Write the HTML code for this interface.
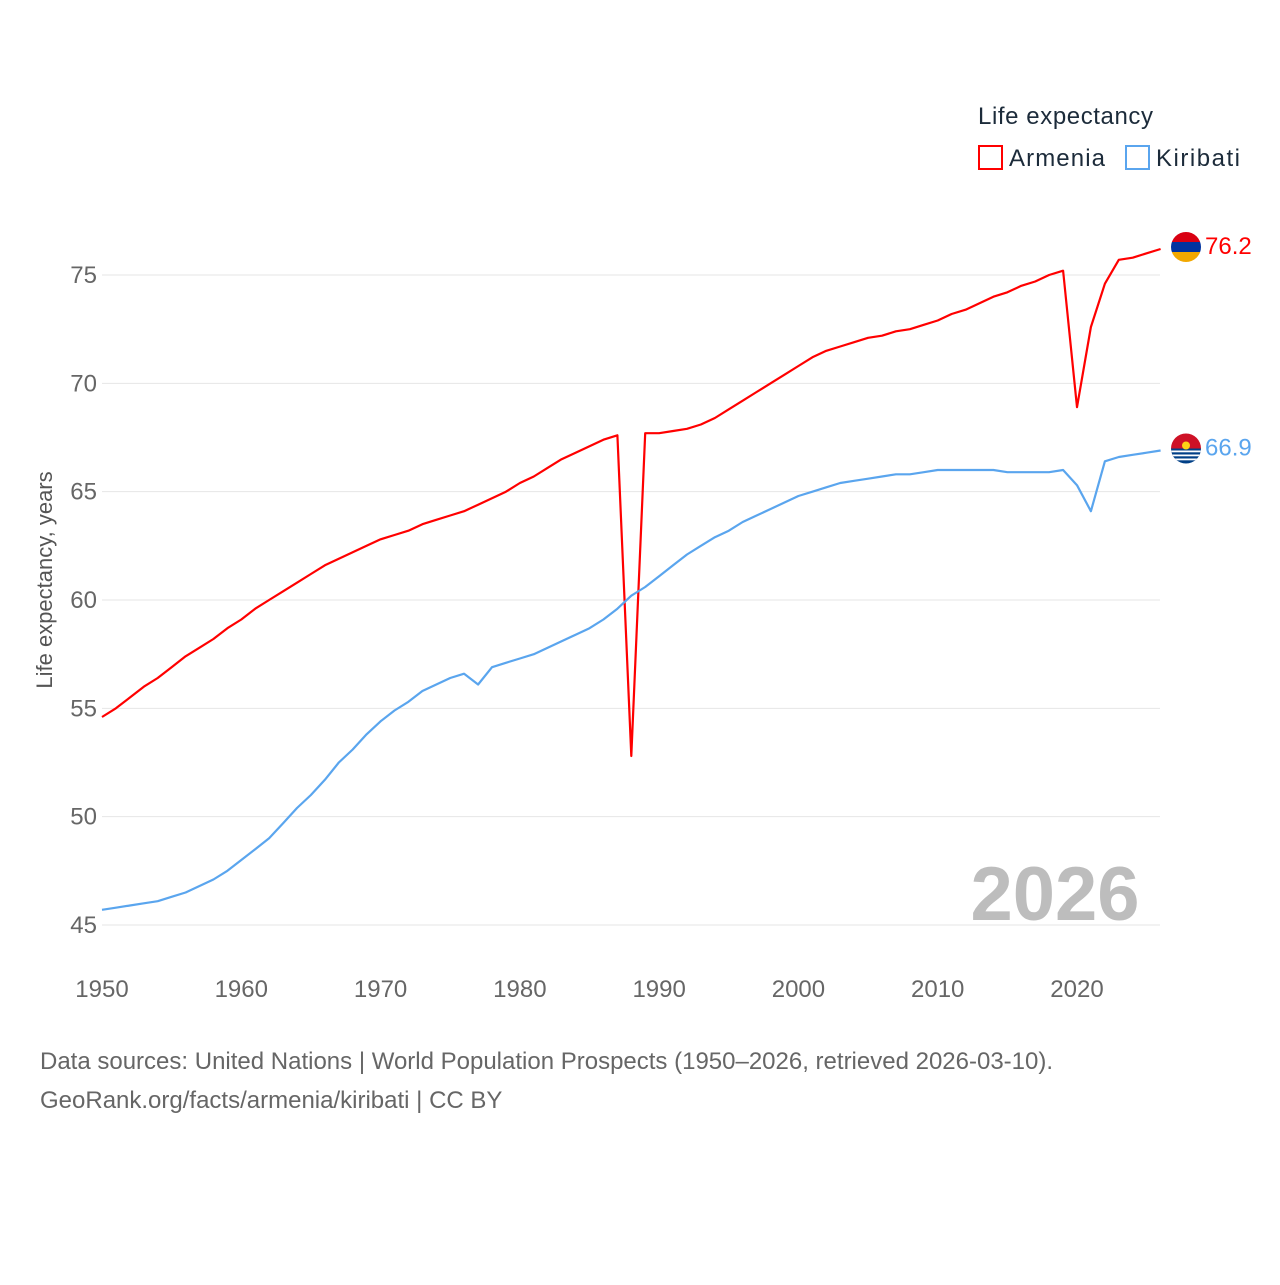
<!DOCTYPE html>
<html><head><meta charset="utf-8"><style>
body{margin:0;background:#fff;width:1280px;height:1280px;overflow:hidden;font-family:"Liberation Sans",sans-serif}
svg text{font-family:"Liberation Sans",sans-serif}
</style></head><body>
<svg id="chart" width="1280" height="1280">
<g id="grid"></g>
<g id="xticks"></g>
<text x="1055" y="920" font-size="76" font-weight="bold" fill="#bdbdbd" text-anchor="middle">2026</text>
<text transform="translate(52,580) rotate(-90)" font-size="22" fill="#555" text-anchor="middle">Life expectancy, years</text>
<g id="series"></g>
<text x="978" y="124" font-size="24" fill="#1c2b3a" textLength="175">Life expectancy</text>
<g><rect x="979" y="146" width="23" height="23" fill="none" stroke="#f00" stroke-width="2"/><text x="1009" y="166" font-size="24" fill="#1c2b3a" textLength="96">Armenia</text></g>
<g><rect x="1126" y="146" width="23" height="23" fill="none" stroke="#5aa5ee" stroke-width="2"/><text x="1156" y="166" font-size="24" fill="#1c2b3a" textLength="84">Kiribati</text></g>
<text x="40" y="1069" font-size="24" fill="#666">Data sources: United Nations | World Population Prospects (1950–2026, retrieved 2026-03-10).</text>
<text x="40" y="1108" font-size="24" fill="#666">GeoRank.org/facts/armenia/kiribati | CC BY</text>
</svg>
<script>
const years=[];for(let y=1950;y<=2026;y++)years.push(y);
const armenia=[54.6,55.0,55.5,56.0,56.4,56.9,57.4,57.8,58.2,58.7,59.1,59.6,60.0,60.4,60.8,61.2,61.6,61.9,62.2,62.5,62.8,63.0,63.2,63.5,63.7,63.9,64.1,64.4,64.7,65.0,65.4,65.7,66.1,66.5,66.8,67.1,67.4,67.6,52.8,67.7,67.7,67.8,67.9,68.1,68.4,68.8,69.2,69.6,70.0,70.4,70.8,71.2,71.5,71.7,71.9,72.1,72.2,72.4,72.5,72.7,72.9,73.2,73.4,73.7,74.0,74.2,74.5,74.7,75.0,75.2,68.9,72.6,74.6,75.7,75.8,76.0,76.2];
const kiribati=[45.7,45.8,45.9,46.0,46.1,46.3,46.5,46.8,47.1,47.5,48.0,48.5,49.0,49.7,50.4,51.0,51.7,52.5,53.1,53.8,54.4,54.9,55.3,55.8,56.1,56.4,56.6,56.1,56.9,57.1,57.3,57.5,57.8,58.1,58.4,58.7,59.1,59.6,60.2,60.6,61.1,61.6,62.1,62.5,62.9,63.2,63.6,63.9,64.2,64.5,64.8,65.0,65.2,65.4,65.5,65.6,65.7,65.8,65.8,65.9,66.0,66.0,66.0,66.0,66.0,65.9,65.9,65.9,65.9,66.0,65.3,64.1,66.4,66.6,66.7,66.8,66.9];
const yTicks=[45,50,55,60,65,70,75];
const xTicks=[1950,1960,1970,1980,1990,2000,2010,2020];
const X=v=>102+(v-1950)*(975/70);
const Y=v=>925-(v-45)*(650/30);
const NS="http://www.w3.org/2000/svg";
function mk(t,a,p){const e=document.createElementNS(NS,t);for(const k in a)e.setAttribute(k,a[k]);p.appendChild(e);return e;}
const grid=document.getElementById('grid');
yTicks.forEach(v=>{
 const l=mk('line',{x1:102,x2:1160,y1:Y(v),y2:Y(v),stroke:'#e6e6e6','stroke-width':1},grid);
 
 
 const t=mk('text',{x:97,y:Y(v)+8,'font-size':24,fill:'#666','text-anchor':'end'},grid);t.textContent=v;
 
 
});
const xt=document.getElementById('xticks');
xTicks.forEach(v=>{
 const t=mk('text',{x:X(v),y:997,'font-size':24,fill:'#666','text-anchor':'middle'},xt);t.textContent=v;
 
 
});
const sg=document.getElementById('series');
function line(data,color,name){
 const d=data.map((v,i)=>(i?'L':'M')+X(years[i]).toFixed(1)+','+Y(v).toFixed(1)).join('');
 const p=mk('path',{d:d,fill:'none',stroke:color,'stroke-width':2.2,'stroke-linejoin':'round'},sg);
 
 
 const last=data[data.length-1];
 const t=mk('text',{x:1205,y:Y(last)+5,'font-size':24,fill:color},sg);t.textContent=last.toFixed(1);
 
 
 return Y(last)-2;
}
const ya=line(armenia,'#ff0000','armenia');
const yk=line(kiribati,'#5aa5ee','kiribati');
const fa=mk('g',{},sg);


mk('clipPath',{id:'ca'},fa).appendChild(document.createElementNS(NS,'circle'));
const ca=document.querySelector('#ca circle');ca.setAttribute('cx',1186);ca.setAttribute('cy',ya);ca.setAttribute('r',15);
mk('rect',{x:1171,y:ya-15,width:30,height:10,fill:'#d90012','clip-path':'url(#ca)'},fa);
mk('rect',{x:1171,y:ya-5,width:30,height:10,fill:'#0033a0','clip-path':'url(#ca)'},fa);
mk('rect',{x:1171,y:ya+5,width:30,height:10,fill:'#f2a800','clip-path':'url(#ca)'},fa);
const fk=mk('g',{},sg);


mk('clipPath',{id:'ck'},fk).appendChild(document.createElementNS(NS,'circle'));
const ck=document.querySelector('#ck circle');ck.setAttribute('cx',1186);ck.setAttribute('cy',yk);ck.setAttribute('r',15);
mk('rect',{x:1171,y:yk-15,width:30,height:15,fill:'#ce1126','clip-path':'url(#ck)'},fk);
mk('rect',{x:1171,y:yk,width:30,height:15,fill:'#003f87','clip-path':'url(#ck)'},fk);
mk('circle',{cx:1186,cy:yk-3,r:4,fill:'#fcd116'},fk);
[2,6,10].forEach(o=>mk('rect',{x:1171,y:yk+o,width:30,height:1.8,fill:'#fff','clip-path':'url(#ck)'},fk));
</script>
</body></html>
